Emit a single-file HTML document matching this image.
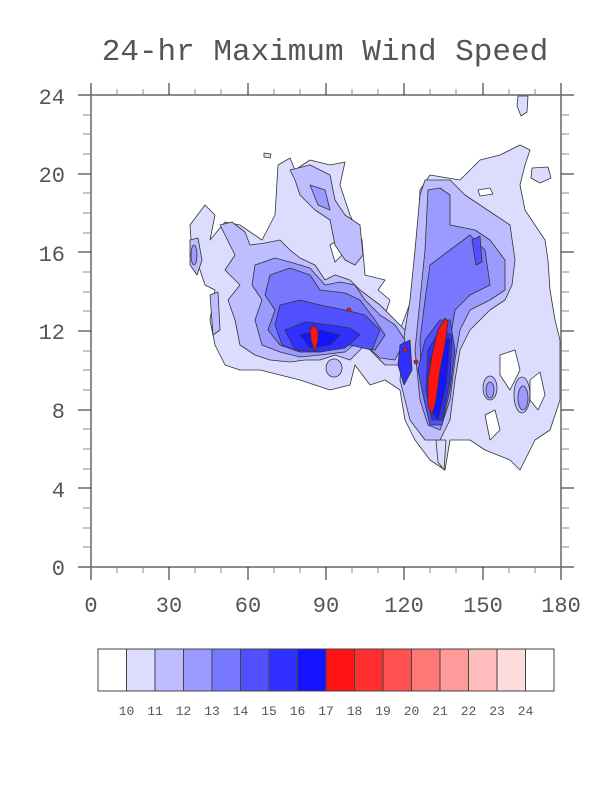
<!DOCTYPE html>
<html><head><meta charset="utf-8"><style>
html,body{margin:0;padding:0;background:#fff;}
svg{display:block}
text{font-family:"Liberation Mono",monospace;fill:#555}
</style></head><body>
<svg width="612" height="792" viewBox="0 0 612 792" xmlns="http://www.w3.org/2000/svg">
<text x="325" y="60" font-size="31" text-anchor="middle">24-hr Maximum Wind Speed</text>
<g stroke="#333" stroke-width="0.8" stroke-linejoin="round">
<!-- level 1 -->
<path fill="#DCDCFF" d="M190,225 L205,205 215,215 210,240 225,222 240,225 262,240 275,215 278,165 290,158 295,170 310,160 330,165 345,162 340,185 350,215 362,240 365,275 385,280 378,290 390,300 385,315 400,330 415,290 420,190 430,175 460,180 480,160 500,155 520,145 530,150 525,165 520,185 525,210 545,240 548,260 550,290 555,320 560,340 560,400 550,430 535,440 520,470 510,460 485,450 470,440 450,440 445,470 430,460 415,440 405,420 400,390 385,380 370,385 355,365 350,385 330,390 315,385 300,380 280,375 260,370 240,370 225,365 215,345 210,320 215,290 205,285 200,270 192,255 Z"/>
<path fill="#DCDCFF" d="M518,96 L528,96 527,112 521,116 517,106Z"/>
<path fill="#DCDCFF" d="M532,168 L548,167 551,178 540,183 531,178Z"/>
<path fill="#DCDCFF" d="M264,153 L271,154 270,158 264,157Z"/>
<path fill="#DCDCFF" d="M436,440 L446,440 444,470 438,462Z"/>
<!-- holes -->
<path fill="#fff" d="M478,190 L490,188 493,194 480,196Z"/>
<path fill="#fff" d="M500,355 L515,350 520,370 510,390 500,375Z"/>
<path fill="#fff" d="M530,380 L540,372 545,395 538,410 530,400Z"/>
<path fill="#fff" d="M485,415 L495,410 500,430 490,440Z"/>
<path fill="#fff" d="M330,245 L338,240 342,255 335,262Z"/>
<!-- level 2 -->
<path fill="#BDBDFF" d="M220,225 L232,222 245,232 250,245 265,243 280,240 290,250 300,258 315,265 325,280 335,275 350,280 360,290 380,305 395,320 410,335 400,365 385,365 365,345 350,360 335,355 320,360 305,360 290,362 270,360 255,355 240,345 235,320 228,300 240,285 225,270 235,255 Z"/>
<path fill="#BDBDFF" d="M290,170 L310,165 330,175 335,200 345,215 360,225 363,255 355,265 345,260 335,245 330,220 315,210 300,195 295,180Z"/>
<path fill="#BDBDFF" d="M420,195 L425,180 450,180 465,195 480,205 495,215 510,225 515,260 512,285 505,300 490,310 470,330 460,350 455,380 450,420 440,440 425,440 410,420 400,380 405,330 410,300 415,250Z"/>
<ellipse fill="#BDBDFF" cx="490" cy="388" rx="7" ry="12"/>
<ellipse fill="#BDBDFF" cx="522" cy="395" rx="8" ry="18"/>
<ellipse fill="#BDBDFF" cx="334" cy="368" rx="8" ry="9"/>
<path fill="#BDBDFF" d="M190,240 L198,238 202,260 197,275 190,265Z"/>
<path fill="#BDBDFF" d="M210,295 L218,292 220,330 213,335Z"/>
<!-- level 3 -->
<path fill="#9A9AFF" d="M255,265 L275,258 290,262 310,268 325,285 340,282 355,285 365,300 380,315 395,325 405,340 395,360 380,358 360,340 345,352 320,355 300,357 280,352 262,345 255,320 262,300 252,285Z"/>
<path fill="#9A9AFF" d="M310,185 L325,190 330,210 318,205Z"/>
<path fill="#9A9AFF" d="M428,190 L440,188 450,195 450,225 475,230 490,240 505,260 505,290 490,300 470,310 460,330 455,360 450,400 440,430 428,425 420,400 415,350 420,300 425,250Z"/>
<ellipse fill="#9A9AFF" cx="490" cy="390" rx="4" ry="8"/>
<ellipse fill="#9A9AFF" cx="523" cy="398" rx="5" ry="12"/>
<ellipse fill="#9A9AFF" cx="194" cy="255" rx="3" ry="10"/>
<!-- level 4 -->
<path fill="#7878FF" d="M270,275 L290,268 310,275 320,290 345,293 360,300 375,320 385,335 375,350 350,345 320,350 300,352 280,345 268,330 275,310 265,295Z"/>
<path fill="#7878FF" d="M430,265 L450,250 470,235 485,250 490,285 470,295 455,310 450,340 447,380 440,420 430,420 422,390 420,340 425,300Z"/>
<!-- level 5 -->
<path fill="#5050FF" d="M280,305 L300,300 320,305 345,310 365,315 380,330 372,350 350,345 320,352 300,352 282,345 275,325Z"/>
<path fill="#5050FF" d="M425,340 L440,320 450,320 455,350 450,390 442,425 430,425 423,395 418,370Z"/>
<path fill="#5050FF" d="M472,240 L480,236 482,262 476,265Z"/>
<!-- level 6 -->
<path fill="#2F2FFF" d="M285,330 L305,322 330,325 350,328 360,335 345,348 320,352 295,350Z"/>
<path fill="#2F2FFF" d="M428,350 L440,330 452,335 450,380 442,420 432,420 426,390Z"/>
<path fill="#2F2FFF" d="M400,345 L410,340 412,370 404,385 398,365Z"/>
<!-- level 7 -->
<path fill="#1414FF" d="M300,335 L320,330 340,335 330,345 310,348Z"/>
<path fill="#1414FF" d="M430,360 L440,335 450,340 446,385 438,420 430,410Z"/>
<!-- red -->
<path fill="#FF1414" d="M438,330 L445,318 448,322 445,345 440,370 436,400 432,415 428,405 428,380 432,355Z"/>
<path fill="#FF1414" d="M313,325 L318,330 318,340 315,352 311,340 310,330Z"/>
<circle fill="#FF1414" cx="349" cy="310" r="2"/>
<circle fill="#FF1414" cx="416" cy="362" r="2"/>
<circle fill="#FF1414" cx="405" cy="350" r="2"/>
</g>
<!-- axes -->
<g stroke="#666" stroke-width="1.5" fill="none">
<line x1="91" y1="83" x2="91" y2="580"/>
<line x1="561" y1="83" x2="561" y2="580"/>
<line x1="78" y1="95" x2="574" y2="95"/>
<line x1="78" y1="567" x2="574" y2="567"/>
</g>
<g stroke="#222" stroke-width="1">
<line x1="169" y1="567" x2="169" y2="580"/><line x1="248" y1="567" x2="248" y2="580"/><line x1="326" y1="567" x2="326" y2="580"/><line x1="404" y1="567" x2="404" y2="580"/><line x1="483" y1="567" x2="483" y2="580"/>
<line x1="169" y1="95" x2="169" y2="83"/><line x1="248" y1="95" x2="248" y2="83"/><line x1="326" y1="95" x2="326" y2="83"/><line x1="404" y1="95" x2="404" y2="83"/><line x1="483" y1="95" x2="483" y2="83"/>
<line x1="78" y1="174" x2="91" y2="174"/><line x1="78" y1="252" x2="91" y2="252"/><line x1="78" y1="331" x2="91" y2="331"/><line x1="78" y1="410" x2="91" y2="410"/><line x1="78" y1="488" x2="91" y2="488"/>
<line x1="561" y1="174" x2="574" y2="174"/><line x1="561" y1="252" x2="574" y2="252"/><line x1="561" y1="331" x2="574" y2="331"/><line x1="561" y1="410" x2="574" y2="410"/><line x1="561" y1="488" x2="574" y2="488"/>
</g>
<g stroke="#888" stroke-width="1">
<path d="M117,567v6M143,567v6M195,567v6M221,567v6M274,567v6M300,567v6M352,567v6M378,567v6M430,567v6M456,567v6M509,567v6M535,567v6
M117,95v-6M143,95v-6M195,95v-6M221,95v-6M274,95v-6M300,95v-6M352,95v-6M378,95v-6M430,95v-6M456,95v-6M509,95v-6M535,95v-6
M91,115h-8M91,134h-8M91,154h-8M91,193h-8M91,213h-8M91,233h-8M91,272h-8M91,292h-8M91,311h-8M91,351h-8M91,370h-8M91,390h-8M91,429h-8M91,449h-8M91,469h-8M91,508h-8M91,528h-8M91,547h-8
M561,115h8M561,134h8M561,154h8M561,193h8M561,213h8M561,233h8M561,272h8M561,292h8M561,311h8M561,351h8M561,370h8M561,390h8M561,429h8M561,449h8M561,469h8M561,508h8M561,528h8M561,547h8"/>
</g>
<g font-size="22" text-anchor="end">
<text x="65" y="104">24</text><text x="65" y="182">20</text><text x="65" y="261">16</text><text x="65" y="339">12</text><text x="65" y="418">8</text><text x="65" y="497">4</text><text x="65" y="575">0</text>
</g>
<g font-size="22" text-anchor="middle">
<text x="91" y="612">0</text><text x="169" y="612">30</text><text x="248" y="612">60</text><text x="326" y="612">90</text><text x="404" y="612">120</text><text x="483" y="612">150</text><text x="561" y="612">180</text>
</g>
<!-- colorbar -->
<g stroke="#444" stroke-width="1">
<rect x="98" y="649" width="28.5" height="42" fill="#fff"/>
<rect x="126.5" y="649" width="28.5" height="42" fill="#DCDCFF"/>
<rect x="155" y="649" width="28.5" height="42" fill="#BDBDFF"/>
<rect x="183.5" y="649" width="28.5" height="42" fill="#9A9AFF"/>
<rect x="212" y="649" width="28.5" height="42" fill="#7878FF"/>
<rect x="240.5" y="649" width="28.5" height="42" fill="#5050FF"/>
<rect x="269" y="649" width="28.5" height="42" fill="#2F2FFF"/>
<rect x="297.5" y="649" width="28.5" height="42" fill="#1414FF"/>
<rect x="326" y="649" width="28.5" height="42" fill="#FF1414"/>
<rect x="354.5" y="649" width="28.5" height="42" fill="#FF2F2F"/>
<rect x="383" y="649" width="28.5" height="42" fill="#FF5050"/>
<rect x="411.5" y="649" width="28.5" height="42" fill="#FF7878"/>
<rect x="440" y="649" width="28.5" height="42" fill="#FF9A9A"/>
<rect x="468.5" y="649" width="28.5" height="42" fill="#FFBDBD"/>
<rect x="497" y="649" width="28.5" height="42" fill="#FFDCDC"/>
<rect x="525.5" y="649" width="28.5" height="42" fill="#fff"/>
</g>
<g font-size="13" text-anchor="middle" style="fill:#333">
<text x="126.5" y="715">10</text><text x="155" y="715">11</text><text x="183.5" y="715">12</text><text x="212" y="715">13</text><text x="240.5" y="715">14</text><text x="269" y="715">15</text><text x="297.5" y="715">16</text><text x="326" y="715">17</text><text x="354.5" y="715">18</text><text x="383" y="715">19</text><text x="411.5" y="715">20</text><text x="440" y="715">21</text><text x="468.5" y="715">22</text><text x="497" y="715">23</text><text x="525.5" y="715">24</text>
</g>
</svg>
</body></html>
